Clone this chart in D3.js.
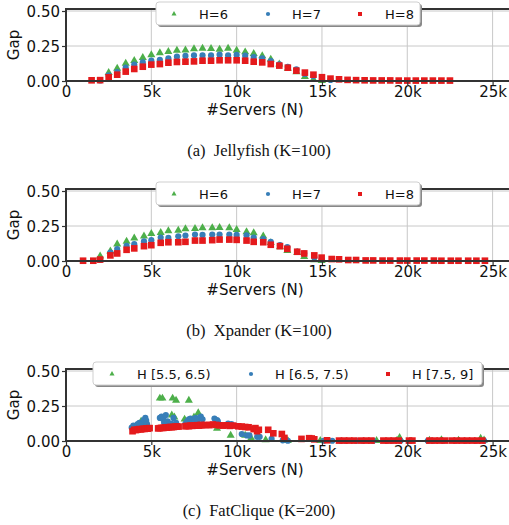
<!DOCTYPE html>
<html><head><meta charset="utf-8">
<script src="https://cdn.jsdelivr.net/npm/d3@7"></script>
<style>body{margin:0;background:#fff}svg{display:block}</style>
</head><body><svg id="c" width="509" height="525"></svg>
<script>
// ---------- DATA ----------
const xTicks = [0, 5000, 10000, 15000, 20000, 25000];
const yTicks = [0, 0.25, 0.5];
const seriesColors = ["#4daf4a", "#377eb8", "#e41a1c"];

// (a) Jellyfish
const jfLabels = ["H=6", "H=7", "H=8"];
const jfN6 = [2500,3000,3500,4000,4500,5000,5500,6000,6500,7000,7500,8000,8500,9000,9500,10000,10500,11000,11500,12000,12500,13000,13500,14000,14500,15000];
const jfH6 = [0.06,0.09,0.126,0.145,0.167,0.186,0.2,0.21,0.219,0.221,0.229,0.233,0.231,0.226,0.233,0.219,0.207,0.195,0.179,0.155,0.12,0.09,0.065,0.03,0.012,0.002];
const jfN7 = [2000,2500,3000,3500,4000,4500,5000,5500,6000,6500,7000,7500,8000,8500,9000,9500,10000,10500,11000,11500,12000,12500,13000,13500,14000,14500,15000,15500];
const jfH7 = [0.004,0.04,0.064,0.095,0.117,0.133,0.145,0.152,0.162,0.174,0.179,0.183,0.183,0.183,0.188,0.183,0.186,0.181,0.171,0.162,0.143,0.119,0.102,0.083,0.05,0.035,0.015,0.008];
const jfN8 = [1500,2000,2500,3000,3500,4000,4500,5000,5500,6000,6500,7000,7500,8000,8500,9000,9500,10000,10500,11000,11500,12000,12500,13000,13500,14000,14500,15000,15500,16000,16500,17000,17500,18000,18500,19000,19500,20000,20500,21000,21500,22000,22500];
const jfH8 = [0.005,0.006,0.026,0.045,0.067,0.086,0.102,0.117,0.121,0.131,0.136,0.138,0.14,0.145,0.145,0.148,0.148,0.148,0.145,0.138,0.133,0.121,0.11,0.095,0.074,0.06,0.045,0.027,0.017,0.012,0.008,0.006,0.005,0.004,0.004,0.004,0.003,0.003,0.003,0.003,0.003,0.003,0.003];

// (b) Xpander
const xpN6 = [2000,2600,3000,3550,4000,4570,5000,5550,6000,6580,7000,7560,8000,8570,9000,9570,10000,10580,11000,11560,12000,12540,12970,13550,13960,14550,14980];
const xpH6 = [0.035,0.07,0.12,0.14,0.163,0.177,0.196,0.203,0.215,0.219,0.229,0.231,0.236,0.236,0.238,0.236,0.224,0.208,0.2,0.177,0.13,0.1,0.073,0.06,0.03,0.007,0.002];
const xpN7 = [1000,2000,2600,3000,3550,4000,4570,5000,5550,6000,6580,7000,7560,8000,8570,9000,9570,10000,10580,11000,11560,12000,12540,12970,13550,13960,14550,14980];
const xpH7 = [0.0,0.007,0.06,0.085,0.108,0.12,0.14,0.149,0.167,0.165,0.177,0.182,0.189,0.186,0.189,0.189,0.189,0.186,0.184,0.167,0.156,0.137,0.113,0.1,0.068,0.054,0.026,0.012];
const xpN8 = [1000,1600,2000,2600,3000,3550,4000,4570,5000,5550,6000,6580,7000,7560,8000,8570,9000,9570,10000,10580,11000,11560,12000,12540,12970,13550,13960,14550,14980,15570,16000,16540,17000,17560,18000,18550,19000,19570,20000,20550,21000,21560,22000,22550,23000,23570,24050,24550];
const xpH8 = [0.002,0.002,0.01,0.04,0.054,0.08,0.09,0.106,0.113,0.13,0.134,0.134,0.137,0.146,0.146,0.149,0.153,0.153,0.151,0.146,0.137,0.134,0.116,0.106,0.087,0.066,0.054,0.04,0.024,0.014,0.012,0.007,0.007,0.004,0.004,0.003,0.003,0.003,0.003,0.003,0.003,0.003,0.002,0.002,0.002,0.002,0.002,0.002];

// (c) FatClique
const fcLabels = ["H [5.5, 6.5)", "H [6.5, 7.5)", "H [7.5, 9]"];
const fcN6 = [4400,4600,5500,5650,6250,6450,7200,5700,6200,6350,6950,7750,7500,8850,9650,10500,10850,11700,13000,14900,18200,19400,19550,21300,22000,23000,24300,24500];
const fcH6 = [0.14,0.125,0.305,0.305,0.305,0.29,0.29,0.16,0.185,0.17,0.155,0.2,0.17,0.09,0.04,0.04,0.02,0.008,0.002,0.002,0.002,0.005,0.024,0.004,0.008,0.004,0.018,0.006];
const fcN7 = [3850,3950,4100,4200,4300,4400,4550,4650,4700,4750,4600,5500,5600,5700,5750,5850,5950,6050,6150,6300,6450,7000,7100,7200,7300,7400,7500,7600,7700,7900,8000,8700,8850,8900,9500,9700,10300,10600,10750,11200,11350,12050,12700,13000,15100,15600,16100,16400,17000,17400,18000,18800,19100,19600,21200,21500,22100,22800,23400,24000,24500];
const fcH7 = [0.095,0.11,0.1,0.12,0.13,0.115,0.15,0.165,0.145,0.12,0.1,0.165,0.175,0.155,0.13,0.185,0.14,0.12,0.125,0.165,0.13,0.125,0.14,0.155,0.16,0.135,0.15,0.165,0.145,0.175,0.155,0.16,0.15,0.14,0.125,0.12,0.05,0.04,0.04,0.03,0.03,0.015,0.005,0.002,0.002,0.002,0.002,0.002,0.002,0.002,0.002,0.002,0.002,0.002,0.002,0.002,0.002,0.002,0.002,0.002,0.002];
const fcN8 = [3900,4000,4100,4200,4300,4400,4500,4600,4700,4800,4900,5400,5500,5600,5700,5800,5900,6000,6100,6200,6300,6400,6500,6600,7000,7100,7200,7300,7400,7500,7600,7700,7800,7900,8000,8200,8400,8600,8800,9000,9200,9400,9600,9800,10100,10300,10500,10700,11000,11100,11200,11300,11850,12150,12650,12800,13800,14250,14400,14550,15300,16000,16300,16600,16900,17300,17600,17900,18600,18900,19200,19500,20100,20300,21300,21600,21900,22200,22600,22900,23200,23500,23800,24100,24400];
const fcH8 = [0.07,0.08,0.078,0.082,0.085,0.083,0.087,0.086,0.09,0.088,0.092,0.09,0.092,0.094,0.093,0.096,0.095,0.098,0.1,0.099,0.1,0.102,0.104,0.103,0.105,0.108,0.106,0.11,0.108,0.112,0.11,0.113,0.11,0.115,0.112,0.115,0.113,0.118,0.115,0.112,0.11,0.112,0.108,0.11,0.105,0.103,0.1,0.098,0.085,0.092,0.07,0.08,0.08,0.055,0.05,0.022,0.015,0.02,0.018,0.012,0.005,0.003,0.003,0.003,0.003,0.003,0.003,0.003,0.003,0.003,0.003,0.003,0.003,0.003,0.003,0.003,0.003,0.003,0.003,0.003,0.003,0.003,0.003,0.003,0.003];

const captions = ["(a)  Jellyfish (K=100)", "(b)  Xpander (K=100)", "(c)  FatClique (K=200)"];

// ---------- DRAW ----------
const svg = d3.select("#c");
const zip = (xs, ys) => xs.map((x, i) => [x, ys[i]]);
const shapes = [d3.symbolTriangle, d3.symbolCircle, d3.symbolSquare];
const sizes = [28, 30, 44];
const legSizes = [11, 14, 16];

function panel(oy, series, labels, leg, caption) {
  const g = svg.append("g").attr("transform", `translate(0,${oy})`);
  const x = d3.scaleLinear().domain([0, 25000]).range([66, 492.6]);
  const y = d3.scaleLinear().domain([0, 0.5]).range([81, 11]);
  const top = 9, bottom = 81, left = 66, right = 515;
  // grid
  g.append("g").selectAll("line").data(xTicks.slice(1)).join("line")
    .attr("x1", d => x(d)).attr("x2", d => x(d)).attr("y1", top).attr("y2", bottom)
    .attr("stroke", "#c8c8c8").attr("stroke-width", 1);
  g.append("g").selectAll("line").data(yTicks.slice(1)).join("line")
    .attr("x1", left).attr("x2", right).attr("y1", d => y(d)).attr("y2", d => y(d))
    .attr("stroke", "#c8c8c8").attr("stroke-width", 1);
  // points
  series.forEach((s, i) => {
    g.append("g").selectAll("path").data(s).join("path")
      .attr("transform", d => `translate(${x(d[0])},${y(d[1])})`)
      .attr("d", d3.symbol().type(shapes[i]).size(sizes[i]))
      .attr("fill", seriesColors[i]);
  });
  // axes
  const xa = g.append("g").attr("transform", `translate(0,${bottom})`)
    .call(d3.axisBottom(x).tickValues(xTicks).tickSize(4).tickPadding(1)
      .tickFormat(d => d === 0 ? "0" : (d / 1000) + "k"));
  const ya = g.append("g").attr("transform", `translate(${left},0)`)
    .call(d3.axisLeft(y).tickValues(yTicks).tickSize(4).tickPadding(2).tickFormat(d3.format(".2f")));
  [xa, ya].forEach(a => {
    a.select(".domain").remove();
    a.selectAll("text").attr("font-family", "DejaVu Sans").attr("font-size", 15).attr("fill", "#111");
    a.selectAll("line").attr("stroke", "#333").attr("stroke-width", 1.2);
  });
  ya.selectAll("text").attr("dy", "0.36em");
  // spines
  g.append("line").attr("x1", left).attr("x2", right).attr("y1", top).attr("y2", top).attr("stroke", "#333").attr("stroke-width", 2);
  g.append("line").attr("x1", left).attr("x2", right).attr("y1", bottom).attr("y2", bottom).attr("stroke", "#333").attr("stroke-width", 2);
  g.append("line").attr("x1", left).attr("x2", left).attr("y1", top - 1).attr("y2", bottom + 1).attr("stroke", "#333").attr("stroke-width", 2);
  // axis labels
  g.append("text").attr("transform", `translate(19,45) rotate(-90)`).attr("text-anchor", "middle")
    .attr("font-family", "DejaVu Sans").attr("font-size", 15).attr("fill", "#111").text("Gap");
  g.append("text").attr("x", 255).attr("y", 115).attr("text-anchor", "middle")
    .attr("font-family", "DejaVu Sans").attr("font-size", 15).attr("fill", "#111").text("#Servers (N)");
  // legend
  const lg = g.append("g");
  lg.append("rect").attr("x", leg.x0 + 2).attr("y", 4).attr("width", leg.x1 - leg.x0).attr("height", 23)
    .attr("rx", 3).attr("fill", "#888");
  lg.append("rect").attr("x", leg.x0).attr("y", 2).attr("width", leg.x1 - leg.x0).attr("height", 23)
    .attr("rx", 3).attr("fill", "#fff").attr("stroke", "#cfcfcf").attr("stroke-width", 1);
  labels.forEach((t, i) => {
    lg.append("path").attr("transform", `translate(${leg.m[i]},14)`)
      .attr("d", d3.symbol().type(shapes[i]).size(legSizes[i])).attr("fill", seriesColors[i]);
    lg.append("text").attr("x", leg.t[i]).attr("y", 18.5).attr("font-family", "DejaVu Sans")
      .attr("font-size", 13).attr("fill", "#111").text(t);
  });
  // caption
  g.append("text").attr("x", 259).attr("y", 156).attr("text-anchor", "middle")
    .attr("font-family", "Liberation Serif").attr("font-size", 16.5).attr("fill", "#111")
    .attr("xml:space", "preserve").style("white-space", "pre").text(caption);
}

panel(0, [zip(jfN6, jfH6), zip(jfN7, jfH7), zip(jfN8, jfH8)], jfLabels,
  {x0: 156, x1: 420, m: [174, 268, 360], t: [199, 292, 385]}, captions[0]);
panel(180, [zip(xpN6, xpH6), zip(xpN7, xpH7), zip(xpN8, xpH8)], jfLabels,
  {x0: 156, x1: 420, m: [174, 268, 360], t: [199, 292, 385]}, captions[1]);
panel(360, [zip(fcN6, fcH6), zip(fcN7, fcH7), zip(fcN8, fcH8)], fcLabels,
  {x0: 93, x1: 482, m: [112, 251, 388], t: [137, 275, 412]}, captions[2]);
</script></body></html>
